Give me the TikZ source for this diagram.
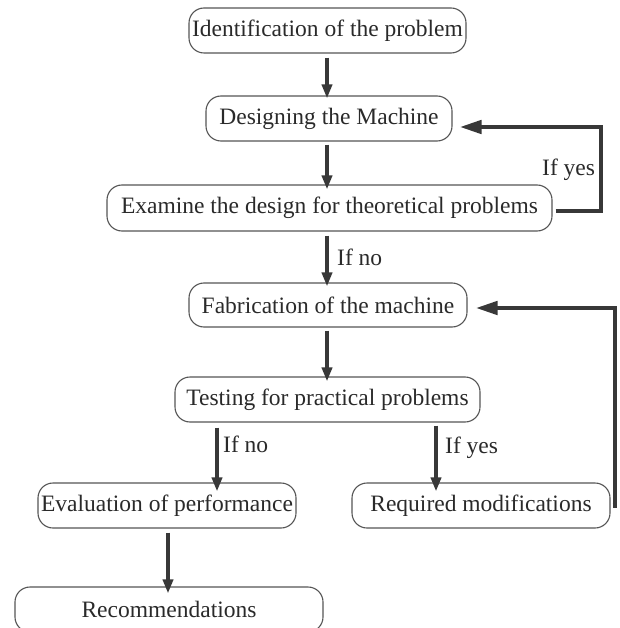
\documentclass[tikz,border=0pt]{standalone}
\usepackage{fontspec}
\setmainfont{Liberation Serif}
\usetikzlibrary{arrows.meta}
\definecolor{boxline}{HTML}{555555}
\definecolor{txt}{HTML}{2A2A2A}
\definecolor{arr}{HTML}{383838}
\begin{document}
\begin{tikzpicture}[x=1pt,y=-1pt,
  box/.style={draw=boxline,line width=1.1pt,rounded corners=15pt,minimum height=45pt,
    inner sep=0pt,text=txt,font=\fontsize{23.5}{28}\selectfont},
  lbl/.style={inner sep=0pt,text=txt,font=\fontsize{23.5}{28}\selectfont,anchor=base west},
  down/.style={draw=arr,line width=3.6pt,-{Triangle[length=14pt,width=10pt]}},
  fb/.style={draw=arr,line width=4.5pt,-{Triangle[length=22pt,width=13pt]}}]
\useasboundingbox[fill=white] (0,0) rectangle (619,628);
\node[box,minimum width=277pt] (b1) at (327.5,30.5) {Identification of the problem};
\node[box,minimum width=246pt] (b2) at (329,118.5) {Designing the Machine};
\node[box,minimum width=445pt,minimum height=46pt] (b3) at (329.5,208) {Examine the design for theoretical problems};
\node[box,minimum width=278pt,minimum height=44pt] (b4) at (328,305) {Fabrication of the machine};
\node[box,minimum width=305pt] (b5) at (327.5,399.5) {Testing for practical problems};
\node[box,minimum width=258pt] (b6) at (167,505.5) {Evaluation of performance};
\node[box,minimum width=258pt] (b7) at (481,505.5) {Required modifications};
\node[box,minimum width=308pt] (b8) at (169,609.5) {Recommendations};
% vertical arrows
\draw[down] (b1.south -| 327,0) ++(0,4) -- ([yshift=-3pt]b2.north -| 327,0);
\draw[down] (b2.south -| 327,0) ++(0,3) -- ([yshift=-5pt]b3.north -| 327,0);
\draw[down] (b3.south -| 327,0) ++(0,4) -- ([yshift=-4pt]b4.north -| 327,0);
\draw[down] (b4.south -| 327,0) ++(0,3) -- ([yshift=-5pt]b5.north -| 327,0);
\draw[down] (b5.south -| 217,0) ++(0,5) -- ([yshift=-9pt]b6.north -| 217,0);
\draw[down] (b5.south -| 436,0) ++(0,3) -- ([yshift=-9pt]b7.north -| 436,0);
\draw[down] (b6.south -| 168,0) ++(0,4) -- ([yshift=-7pt]b8.north -| 168,0);
% feedback loops
\coordinate (c1) at (601,211);
\coordinate (c2) at (601,127);
\draw[fb] ([shift={(3,3)}]b3.east) -- (c1) -- (c2) -- ([shift={(7,8.5)}]b2.east);
\coordinate (c3) at (615,505.5);
\coordinate (c4) at (615,308);
\draw[fb] ([xshift=2pt]b7.east) -- (c3) -- (c4) -- ([shift={(8,3)}]b4.east);
% labels
\node[lbl] (l1) at (542,176) {If yes};
\node[lbl] (l2) at (337,265) {If no};
\node[lbl] (l3) at (223,452) {If no};
\node[lbl] (l4) at (445,453) {If yes};
\end{tikzpicture}
\end{document}
